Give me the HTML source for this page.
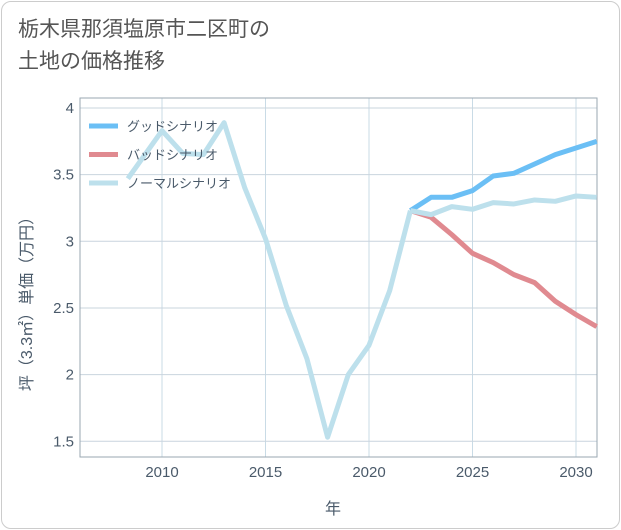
<!DOCTYPE html>
<html><head><meta charset="utf-8"><style>
body{margin:0;background:#fff;font-family:"Liberation Sans","Noto Sans CJK JP",sans-serif;}
.card{position:absolute;left:1px;top:1px;width:617px;height:526px;border:1px solid #ccc;border-radius:10px;background:#fff;}
.title{position:absolute;left:18px;top:14px;font-size:21px;line-height:32px;color:#555;}
</style></head><body>
<div class="card"></div>
<div class="title">栃木県那須塩原市二区町の<br>土地の価格推移</div>
<svg id="chart" width="621" height="530" style="position:absolute;left:0;top:0"></svg>
<script>
const years=[2008.35,2010,2011,2012,2013,2014,2015,2016,2017,2018,2019,2020,2021,2022];
const normalHist=[3.47,3.83,3.66,3.65,3.89,3.40,3.02,2.52,2.12,1.53,2.0,2.22,2.63,3.23];
const futureYears=[2022,2023,2024,2025,2026,2027,2028,2029,2030,2031];
const good=[3.23,3.33,3.33,3.38,3.49,3.51,3.58,3.65,3.70,3.75];
const bad=[3.23,3.18,3.05,2.91,2.84,2.75,2.69,2.55,2.45,2.36];
const normalFut=[3.23,3.20,3.26,3.24,3.29,3.28,3.31,3.30,3.34,3.33];
const xTicks=[2010,2015,2020,2025,2030];
const yTicks=[1.5,2,2.5,3,3.5,4];
const yTickLabels=["1.5","2","2.5","3","3.5","4"];
const legendLabels=["グッドシナリオ","バッドシナリオ","ノーマルシナリオ"];
const colors=["#6bbff5","#e08a90","#bde0ec"];
const L=80,R=597,T=98,B=457;
const X=v=>162+(v-2010)*(576-162)/20;
const Y=v=>108+(4-v)*133.3;
const svg=document.getElementById('chart');const NS='http://www.w3.org/2000/svg';
function mk(t,a){const e=document.createElementNS(NS,t);for(const k in a)e.setAttribute(k,a[k]);svg.appendChild(e);return e;}
xTicks.forEach(t=>{const l=mk('line',{x1:X(t),x2:X(t),y1:T,y2:B,stroke:'#c9dbe6','stroke-width':1});

const tx=mk('text',{x:X(t),y:B+20,'text-anchor':'middle','font-size':15,fill:'#4a5a6a'});tx.textContent=t;
});
yTicks.forEach((t,i)=>{const l=mk('line',{x1:L,x2:R,y1:Y(t),y2:Y(t),stroke:'#c9d4de','stroke-width':1});

const tx=mk('text',{x:L-6,y:Y(t)+5,'text-anchor':'end','font-size':15,fill:'#4a5a6a'});tx.textContent=yTickLabels[i];
});
const fr=mk('rect',{x:L,y:T,width:R-L,height:B-T,fill:'none',stroke:'#9aa7b2','stroke-width':1});

function line(xs,ys,c,name){const p=mk('polyline',{points:xs.map((x,i)=>X(x)+','+Y(ys[i])).join(' '),fill:'none',stroke:c,'stroke-width':5,'stroke-linejoin':'round'});
}
line(futureYears,bad,colors[1],'bad-scenario-line');
line(futureYears,good,colors[0],'good-scenario-line');
line(years,normalHist,colors[2],'normal-history-line');
line(futureYears,normalFut,colors[2],'normal-scenario-line');
legendLabels.forEach((s,i)=>{const y=126+i*28.5;
const l=mk('line',{x1:89,x2:118,y1:y,y2:y,stroke:colors[i],'stroke-width':5});

const t=mk('text',{x:127,y:y+5,'font-size':13,fill:'#4a5a6a'});t.textContent=s;
});
const xt=mk('text',{x:333,y:514,'text-anchor':'middle','font-size':16,fill:'#4a5a6a'});xt.textContent='年';

const yt=mk('text',{x:32,y:300,'text-anchor':'middle','font-size':16,fill:'#4a5a6a',transform:'rotate(-90 32 300)'});yt.textContent='坪（3.3㎡）単価（万円）';

</script>
</body></html>
